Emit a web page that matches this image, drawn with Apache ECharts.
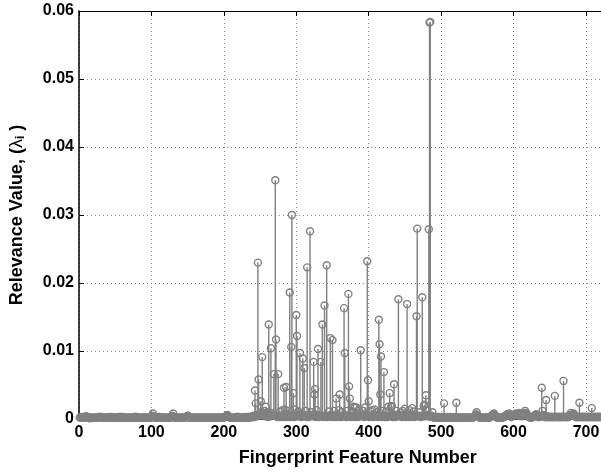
<!DOCTYPE html>
<html>
<head>
<meta charset="utf-8">
<script src="https://cdn.jsdelivr.net/npm/echarts@6/dist/echarts.min.js"></script>
<style>html,body{margin:0;padding:0;background:#fff;overflow:hidden;width:601px;height:475px}#c{width:680px;height:475px}</style>
</head>
<body>
<div id="c"></div>
<script>
// Near-zero relevance of every feature 1..720, in units of 1e-4
const background = [
2,2,3,2,2,3,2,2,3,4,3,2,2,2,1,2,2,2,2,2,2,2,2,2,2,3,2,2,3,3,
3,2,2,2,2,2,2,2,2,2,3,2,2,2,3,2,2,2,2,2,2,2,2,2,2,3,3,2,2,3,
2,2,2,2,2,2,2,2,2,2,2,2,2,2,2,2,3,3,3,2,2,2,2,2,2,2,2,2,2,2,
2,2,2,2,2,2,2,2,2,3,5,8,4,2,2,2,2,2,2,3,3,2,2,2,2,2,2,2,2,2,
2,2,2,2,2,2,2,3,5,8,3,2,2,2,2,2,2,2,2,2,2,2,2,2,2,2,2,3,4,5,
4,2,2,2,2,2,2,2,2,2,2,2,2,2,2,2,2,2,2,2,2,2,2,2,2,2,2,2,2,2,
2,2,2,2,2,2,2,2,2,2,2,2,2,2,2,2,2,2,2,2,3,3,4,5,6,4,3,2,2,2,
2,2,2,2,2,2,2,3,3,3,2,2,2,2,2,2,2,2,2,2,3,2,2,3,2,3,2,3,4,3,
5,3,4,3,6,4,5,6,5,8,7,10,4,6,9,12,4,8,5,10,3,4,6,4,5,9,5,7,4,5,
6,5,4,3,8,4,3,11,5,4,13,3,6,14,5,4,3,7,12,4,5,3,6,4,5,6,3,14,4,5,
6,4,11,5,4,7,3,5,4,6,5,4,12,3,5,4,3,6,4,5,10,4,6,5,4,6,3,13,5,4,
3,5,4,6,4,5,4,3,6,5,4,5,3,4,11,5,4,6,3,5,4,12,3,5,4,6,3,4,13,5,
4,3,10,5,4,6,5,4,3,12,4,5,6,4,3,5,11,4,5,3,17,4,6,5,3,13,4,5,6,5,
4,12,5,3,6,4,5,6,5,4,3,5,11,4,13,5,3,4,6,4,10,5,3,4,6,5,4,3,12,5,
4,3,5,11,4,3,5,4,6,5,18,4,3,5,4,6,3,12,4,5,3,6,4,10,5,3,12,4,5,6,
4,3,5,4,6,13,3,4,5,4,6,11,3,5,4,3,6,4,5,10,4,3,5,6,4,3,5,4,6,5,
12,4,3,5,4,3,5,10,3,2,2,3,2,2,3,2,2,3,2,2,2,3,2,3,2,2,2,3,2,2,
2,2,3,2,2,2,2,2,2,3,3,2,2,2,2,2,2,2,2,2,2,2,2,2,2,2,2,2,2,2,
2,2,2,2,3,4,5,7,9,6,4,3,2,2,2,2,2,2,2,2,2,2,2,2,2,2,2,3,4,5,
6,7,8,6,4,3,2,2,2,2,2,2,2,2,2,3,3,4,5,6,7,7,6,8,6,4,3,4,5,6,
6,7,8,6,5,6,7,9,7,5,4,5,6,7,9,12,9,8,6,4,3,3,2,2,2,3,3,4,5,6,
7,5,4,3,3,3,4,5,6,12,6,4,3,3,5,4,3,3,3,3,3,3,3,3,3,3,3,3,3,3,
3,3,3,3,3,3,3,3,3,3,3,3,3,3,3,3,4,6,9,6,5,7,8,6,4,3,3,3,3,3,
3,3,3,3,3,3,3,3,3,3,3,3,3,3,3,3,3,3,3,3,3,3,3,3,3,3,3,3,3,3
];
// Features with clearly visible stems
const features = [243,244,247,248,251,253,258,262,265,269,271,272,275,283,286,291,293,294,296,300,
301,305,309,311,315,319,324,325,326,330,334,336,339,342,347,350,355,360,366,367,
372,373,374,379,383,389,395,398,399,400,408,414,415,416,417,421,427,429,432,435,
441,450,453,460,466,467,474,476,477,479,483,484,485,504,521,549,573,639,640,645,657,
669,691,708];
const relevance = [0.0042,0.0023,0.0230,0.0058,0.0026,0.0091,0.0018,0.0139,0.0104,0.0066,0.0351,0.0117,0.0066,0.0046,0.0047,0.0186,0.0106,0.0300,0.0038,0.0153,
0.0122,0.0097,0.0089,0.0075,0.0223,0.0276,0.0084,0.0036,0.0044,0.0103,0.0084,0.0139,0.0167,0.0226,0.0119,0.0116,0.0030,0.0036,0.0163,0.0097,
0.0184,0.0048,0.0030,0.0018,0.0017,0.0101,0.0017,0.0232,0.0057,0.0026,0.0014,0.0146,0.0110,0.0036,0.0092,0.0069,0.0018,0.0038,0.0019,0.0051,
0.0176,0.0015,0.0169,0.0016,0.0151,0.0280,0.0179,0.0019,0.0021,0.0035,0.0279,0.0583,0.0584,0.0023,0.0024,0.0010,0.0008,0.0046,0.0012,0.0028,0.0034,
0.0056,0.0024,0.0016];
const xTicks = [0,100,200,300,400,500,600,700,800];
const yTicks = [0,0.01,0.02,0.03,0.04,0.05,0.06];

const override = {};
features.forEach((f, i) => { override[f] = relevance[i]; });
const data = background.map((b, i) => {
  const f = i + 1;
  return [f, override[f] !== undefined ? override[f] : b * 1e-4];
});

const STEM = '#808080';
const chart = echarts.init(document.getElementById('c'), null, {renderer: 'canvas'});
const font = '"Liberation Sans", Arial, Helvetica, sans-serif';
chart.setOption({
  animation: false,
  grid: {left: 76, width: 582.4, top: 11, height: 408, containLabel: false},
  xAxis: [{
    type: 'value', min: xTicks[0], max: xTicks[xTicks.length - 1], interval: 100,
    name: 'Fingerprint Feature Number', nameLocation: 'middle', nameGap: 30,
    nameTextStyle: {fontFamily: font, fontWeight: 'bold', fontSize: 18, color: '#000', padding: [0, 22, 0, 0]},
    axisLine: {show: true, onZero: false, lineStyle: {color: '#000', width: 1.5}},
    axisTick: {show: true, inside: true, length: 5, lineStyle: {color: '#000'}},
    axisLabel: {fontFamily: font, fontWeight: 'bold', fontSize: 16, color: '#000', margin: 6},
    splitLine: {show: true, lineStyle: {color: '#888', type: [1, 3], width: 1}}
  }, {
    type: 'value', position: 'top', min: xTicks[0], max: xTicks[xTicks.length - 1], interval: 100,
    axisLine: {show: true, onZero: false, lineStyle: {color: '#000', width: 1}},
    axisTick: {show: true, inside: true, length: 5, lineStyle: {color: '#000'}},
    axisLabel: {show: false}, splitLine: {show: false}
  }],
  yAxis: {
    type: 'value', min: yTicks[0], max: yTicks[yTicks.length - 1], interval: 0.01,
    name: '{t|Relevance Value, (}{l|λ}{s|i}{t| )}', nameLocation: 'middle', nameGap: 52, nameRotate: 90,
    nameTextStyle: {
      rich: {
        t: {fontFamily: font, fontWeight: 'bold', fontSize: 18, color: '#000'},
        l: {fontFamily: font, fontWeight: 'normal', fontSize: 18, color: '#000'},
        s: {fontFamily: font, fontWeight: 'bold', fontSize: 12, color: '#000', verticalAlign: 'bottom', padding: [8, 0, 0, 0]}
      }
    },
    axisLine: {show: true, lineStyle: {color: '#000', width: 1.5}},
    axisTick: {show: true, inside: true, length: 5, lineStyle: {color: '#000'}},
    axisLabel: {fontFamily: font, fontWeight: 'bold', fontSize: 16, color: '#000', margin: 5,
      formatter: v => (v === 0 ? '0' : v.toFixed(2))},
    splitLine: {show: true, lineStyle: {color: '#888', type: [1, 3], width: 1}}
  },
  series: [{
    type: 'custom', clip: false, data: data, z: 3,
    renderItem: (params, api) => {
      const x = api.value(0), y = api.value(1);
      const p0 = api.coord([x, 0]), p1 = api.coord([x, y]);
      return {type: 'line', shape: {x1: p0[0], y1: p0[1], x2: p1[0], y2: p1[1]},
        style: {stroke: STEM, lineWidth: 1.4}};
    }
  }, {
    type: 'custom', clip: false, data: data, z: 4,
    renderItem: (params, api) => {
      const p1 = api.coord([api.value(0), api.value(1)]);
      return {type: 'circle', shape: {cx: p1[0], cy: p1[1], r: 3.5},
        style: {stroke: STEM, fill: 'none', lineWidth: 1.4}};
    }
  }]
});
</script>
</body>
</html>
